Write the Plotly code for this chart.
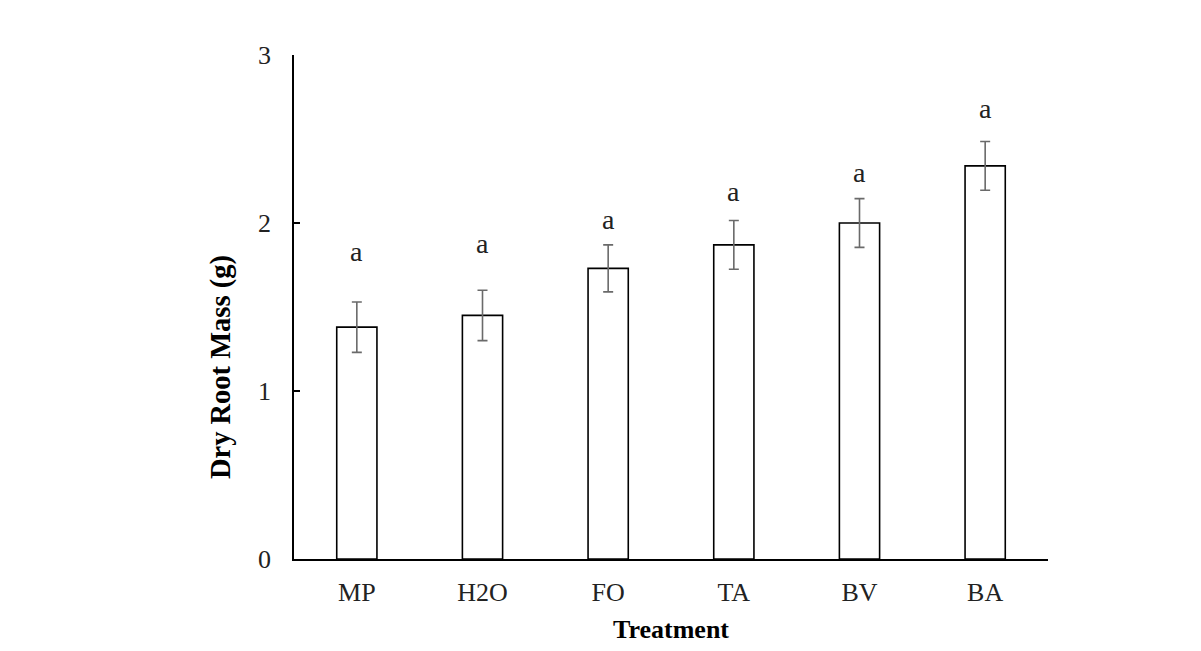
import plotly.graph_objects as go

# Dry root mass by treatment
treatments = ["MP", "H2O", "FO", "TA", "BV", "BA"]
root_mass = [1.38, 1.45, 1.73, 1.87, 2.00, 2.34]
std_err = [0.15, 0.15, 0.14, 0.145, 0.145, 0.145]
letters = ["a", "a", "a", "a", "a", "a"]
letter_y = [1.83, 1.88, 2.02, 2.19, 2.30, 2.68]
y_ticks = [0, 1, 2, 3]

serif = "Liberation Serif, Times New Roman, serif"

bars = go.Bar(
    x=treatments, y=root_mass,
    width=0.32,
    marker=dict(color="white", line=dict(color="black", width=1.6)),
    error_y=dict(type="data", array=std_err, visible=True,
                 color="#6a6a6a", thickness=1.6, width=5),
)

fig = go.Figure(data=[bars])

for t, lab, ly in zip(treatments, letters, letter_y):
    fig.add_annotation(x=t, y=ly, text=lab, showarrow=False,
                       xanchor="center", yanchor="middle",
                       font=dict(family=serif, size=28, color="#222"))

# axis titles placed like the original
fig.add_annotation(xref="paper", yref="paper", x=0.5, y=-0.14,
                   text="<b>Treatment</b>", showarrow=False,
                   xanchor="center", yanchor="middle",
                   font=dict(family=serif, size=26, color="black"))
fig.add_annotation(xref="paper", yref="paper", x=-0.096, y=0.38,
                   text="<b>Dry Root Mass (g)</b>", showarrow=False,
                   textangle=-90, xanchor="center", yanchor="middle",
                   font=dict(family=serif, size=28.5, color="black"))

fig.update_layout(
    width=1201, height=651,
    margin=dict(l=286, r=161, t=47, b=100),
    paper_bgcolor="white", plot_bgcolor="white",
    showlegend=False,
    font=dict(family=serif, size=26, color="#222"),
    xaxis=dict(showline=True, linecolor="black", linewidth=1.6,
               ticks="", showgrid=False, range=[-0.5, 5.5],
               ticklabelstandoff=9),
    yaxis=dict(showline=True, linecolor="black", linewidth=1.6,
               range=[0, 3], tickvals=y_ticks, ticks="inside", ticklen=6,
               tickcolor="black", tickwidth=1.6,
               showgrid=False, zeroline=False, ticklabelstandoff=16),
)

fig.write_html("out.html")
